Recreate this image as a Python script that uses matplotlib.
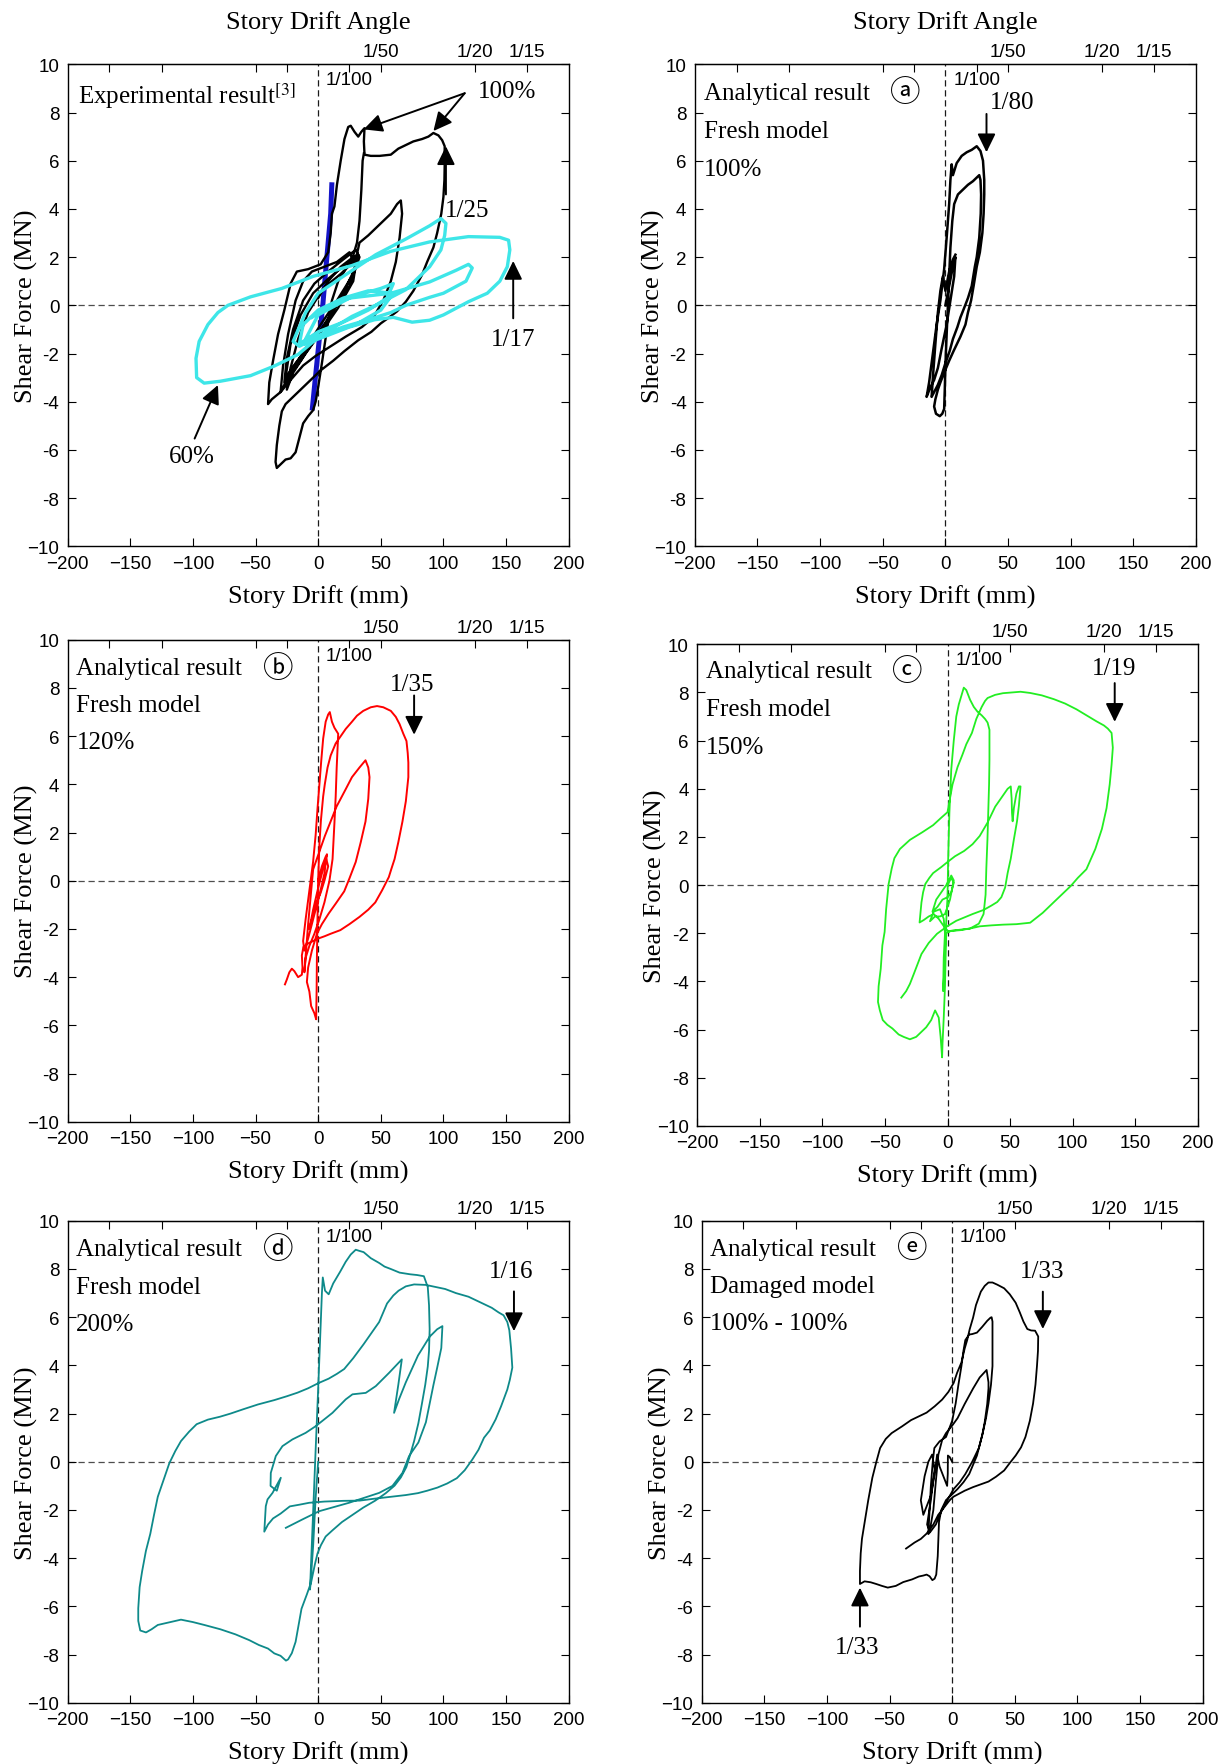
import numpy as np
import matplotlib.pyplot as plt

plt.rcParams['mathtext.fontset'] = 'stix'

SERIF = ['Liberation Serif', 'Noto Sans CJK JP', 'DejaVu Sans']
CIRCLED = ['Noto Sans CJK JP', 'DejaVu Sans']
SANS = 'Liberation Sans'

x_ticks = [-200, -150, -100, -50, 0, 50, 100, 150, 200]
x_tick_labels = ['\u2212200', '\u2212150', '\u2212100', '\u221250', '0', '50', '100', '150', '200']
y_ticks = [-10, -8, -6, -4, -2, 0, 2, 4, 6, 8, 10]
y_tick_labels = ['\u221210', '-8', '-6', '-4', '-2', '0', '2', '4', '6', '8', '10']

# drift angle marks for a 2500 mm story
angle_ticks = [-500 / 3, -125, -50, -25, 25, 50, 125, 500 / 3]
angle_labels = ['', '', '', '', '', '1/50', '1/20', '1/15']

# ---- experimental result (story drift mm, shear MN) ----
exp_black = [
    (0, 0.3), (8, 1.0), (18, 1.6), (28, 2.0), (32, 2.1), (27, 1.2), (15, 0.2), (2, -0.8), (-10, -1.8),
    (-20, -2.6), (-27, -3.2), (-25, -2.2), (-20, -1.0), (-12, 0.2), (-3, 0.9), (8, 1.4), (20, 1.9),
    (30, 2.3), (33, 2.0), (25, 0.8), (12, -0.2), (0, -1.2), (-14, -2.3), (-24, -3.0), (-30, -3.6),
    (-28, -2.5), (-24, -1.2), (-18, 0.2), (-12, 1.0), (-5, 1.4), (5, 1.6), (15, 1.8), (25, 2.2),
    (30, 1.6), (20, 0.5), (8, -0.6), (-6, -1.6), (-18, -2.4), (-26, -3.0), (-22, -1.6), (-14, -0.4),
    (-4, 0.5), (8, 1.1), (22, 1.7), (31, 2.0), (28, 1.0), (16, -0.1), (4, -1.0), (-10, -2.0),
    (-20, -2.8), (-25, -3.5), (-22, -2.6), (-16, -1.4), (-8, -0.3), (4, 0.7), (18, 1.3), (30, 1.9),
    (33, 2.6), (40, 2.9), (50, 3.4), (58, 3.8), (63, 4.2), (66, 4.35), (67, 3.8), (65, 2.8), (62, 1.8),
    (58, 1.0), (52, 0.2), (44, -0.5), (35, -0.9), (22, -1.3), (10, -1.7), (-2, -2.1), (-12, -2.5),
    (-22, -3.1), (-30, -3.6), (-37, -3.9), (-40, -4.1), (-39, -3.2), (-36, -2.3), (-32, -1.2),
    (-27, -0.2), (-22, 0.9), (-17, 1.4), (-8, 1.5), (2, 1.7), (8, 2.2), (10, 3.0), (11, 3.8), (13, 4.1),
    (15, 5.0), (18, 6.0), (21, 6.9), (24, 7.4), (26, 7.45), (29, 7.2), (32, 7.0), (34.5, 7.2),
    (37, 7.35), (36.5, 6.8), (37, 6.25), (42, 6.2), (49, 6.2), (58, 6.25), (64, 6.5), (70, 6.65),
    (76, 6.8), (83, 6.9), (88, 7.0), (92, 7.15), (96, 7.05), (99, 6.85), (101, 6.6), (101, 5.8),
    (100.8, 5.2), (100, 4.5), (98.3, 3.8), (95, 3.0), (92, 2.4), (87, 1.8), (82.8, 1.25), (76, 0.6),
    (70, 0.15), (63, -0.25), (58, -0.45), (50, -0.75), (42.5, -1.1), (32, -1.45), (21, -1.9),
    (12, -2.3), (2, -2.7), (-6, -3.1), (-13, -3.45), (-20, -3.8), (-26, -4.1), (-29, -4.4), (-31, -5.0),
    (-33, -5.8), (-34, -6.5), (-33, -6.75), (-30, -6.6), (-26, -6.4), (-22, -6.35), (-18, -6.1),
    (-15, -5.5), (-12, -4.9), (-8, -4.6), (-4, -4.35), (-2, -4.0), (0, -3.4), (3, -2.4), (7, -1.0),
    (11, 0.2), (16, 1.0), (22, 1.5), (27, 1.9), (31, 2.6), (33, 3.5), (34.5, 4.8), (35.5, 6.0),
    (36.5, 6.3),
]
exp_cyan = [
    (-5, -0.5), (10, 0.0), (30, 0.4), (50, 0.7), (60, 0.9), (55, 0.3), (40, -0.2), (20, -0.7), (0, -1.1),
    (-15, -1.6), (-12, -0.8), (0, -0.2), (20, 0.3), (40, 0.6), (60, 0.5), (50, -0.2), (30, -0.8),
    (10, -1.1), (-10, -1.4), (0, -0.4), (25, 0.3), (58, 0.5), (89, 0.97), (110, 1.45), (120, 1.7),
    (123, 1.55), (118, 1.0), (100, 0.5), (89, 0.33), (70, 0.0), (58, -0.3), (40, -0.6), (20, -0.9),
    (0, -1.3), (-15, -1.7), (-20, -1.5), (-10, -0.3), (0, 0.5), (20, 1.2), (46, 2.1), (70, 2.75),
    (89, 3.3), (98, 3.6), (102, 3.4), (101, 2.9), (98, 2.3), (89, 1.6), (70, 0.65), (46, 0.0),
    (27, -0.46), (2, -1.25), (-16, -2.04), (-35, -2.52), (-54, -2.92), (-78, -3.15), (-91, -3.23),
    (-97, -3.0), (-97.5, -2.2), (-95, -1.5), (-88, -0.8), (-80, -0.3), (-72, 0.0), (-54, 0.35),
    (-29, 0.7), (-4, 1.2), (27, 1.65), (58, 2.24), (89, 2.63), (120, 2.85), (145, 2.82), (152, 2.7),
    (153, 2.3), (151, 1.6), (145, 1.0), (135, 0.5), (120, 0.15), (100, -0.4), (89, -0.62), (75, -0.7),
    (60, -0.5), (45, -0.6), (25, -0.9), (5, -1.3), (-10, -1.6),
]
exp_blue = [
    (10.9, 5.0), (10, 3.8), (6.8, 1.9), (3.7, 0.0), (0.6, -1.57), (-2.5, -3.15), (-4.6, -4.26),
]

# ---- analytical results ----
ana_a = [
    (0, 0), (3, 0.8), (6, 1.6), (8, 2.0), (7, 1.2), (4, 0.2), (1, -0.8), (-3, -1.8), (-6, -2.6),
    (-9, -3.1), (-12, -3.4), (-15, -3.8), (-13, -3.2), (-10, -2.0), (-7, -0.8), (-4, 0.2), (-1, 1.5),
    (1, 2.8), (3, 4.2), (4, 5.2), (5, 5.85), (6, 5.4), (9, 5.9), (13, 6.2), (17, 6.35), (21, 6.45),
    (25, 6.6), (28, 6.4), (30, 6.0), (31, 5.2), (31, 4.6), (30.5, 3.8), (29.5, 3.0), (27.5, 2.2),
    (25, 1.6), (22.5, 0.8), (20.5, 0.2), (18, -0.3), (16, -0.8), (12, -1.3), (6.5, -1.9), (3, -2.3),
    (-1, -2.8), (-4, -3.2), (-6, -3.5), (-8, -3.9), (-9, -4.2), (-7.5, -4.5), (-4.5, -4.6), (-2.5, -4.5),
    (-1, -4.3), (-0.5, -3.5), (0, -2.5), (1, -1.2), (2, 0), (3, 1.2), (4, 2.4), (5.5, 3.5), (7, 4.2),
    (10, 4.6), (14, 4.8), (18, 5.0), (22, 5.15), (25, 5.3), (27, 5.4), (28, 5.2), (28.5, 4.6),
    (28.2, 3.8), (27, 2.8), (25, 2.0), (23.5, 1.6), (21, 0.8), (18, 0.3), (15.8, 0), (12, -0.5),
    (9.6, -0.9), (6, -1.4), (3.4, -1.9), (0, -2.4), (-3, -2.9), (-6, -3.3), (-9, -3.6), (-11, -3.8),
    (-10, -3.0), (-8, -1.6), (-6, -0.3), (-4, 0.6), (-2, 1.2), (0, 0.6), (3, 1.4), (6, 1.9), (8, 2.1),
]
ana_b = [
    (0, 0), (3, 0.6), (6, 1.0), (8, 0.6), (5, 0.0), (2, -0.5), (-2, -1.0), (-5, -1.6), (-7, -2.0),
    (-4, -1.2), (0, -0.3), (4, 0.5), (7, 1.1), (5, 0.3), (1, -0.6), (-4, -1.6), (-8, -2.4), (-11, -2.9),
    (-12, -2.5), (-10, -1.6), (-7, -0.4), (-4, 0.8), (-2, 1.9), (-0.5, 3.0), (1, 4.0), (2.5, 5.0),
    (4, 5.9), (6, 6.6), (8, 6.9), (9.3, 7.0), (11, 6.6), (13, 6.35), (16, 6.1), (15.5, 5.5), (14.8, 4.7),
    (14, 3.5), (13, 2.4), (11.5, 0.9), (9, 0), (5, -0.9), (1, -1.6), (-3, -2.2), (-7, -2.7), (-10, -3.2),
    (-11, -3.8), (-8, -1.8), (-4, 0.47), (5.3, 1.85), (14.6, 3.07), (22, 3.8), (27, 4.3), (33, 4.7),
    (37.8, 5.0), (40, 4.7), (41, 4.3), (40, 3.4), (37.8, 2.46), (34, 1.6), (30, 0.78), (25, 0.1),
    (20.8, -0.44), (14, -0.95), (8.4, -1.36), (3, -1.8), (-1, -2.2), (-5, -2.9), (-8, -3.6), (-9, -4.2),
    (-7, -4.6), (-5.6, -5.2), (-3, -5.5), (-1.6, -5.75), (-1.2, -4.5), (-1, -3.2), (-0.5, -1.5), (0, 0),
    (1, 1.5), (2.2, 2.5), (4, 3.5), (5.3, 4.0), (7.5, 4.7), (10, 5.2), (14, 5.7), (18, 6.0), (22, 6.3),
    (27, 6.6), (31, 6.85), (36, 7.05), (42, 7.2), (47, 7.25), (52, 7.2), (58, 7.05), (62, 6.8),
    (65, 6.5), (68, 6.1), (70.5, 5.8), (71.5, 5.3), (72, 4.9), (72, 4.3), (70, 3.3), (67.3, 2.46),
    (64, 1.6), (61, 0.9), (58.5, 0.5), (56.4, 0.15), (51, -0.4), (45.6, -0.9), (40, -1.2), (33, -1.5),
    (25, -1.8), (17.7, -2.05), (10, -2.2), (5.3, -2.3), (0, -2.4), (-4, -2.5), (-8, -2.6), (-11.8, -2.75),
    (-13, -3.1), (-12.5, -3.6), (-13, -3.9), (-16, -4.0), (-19, -3.75), (-21, -3.65), (-23, -3.8),
    (-25, -4.1), (-26.5, -4.3),
]
ana_c = [
    (0, 0), (3, 0.3), (5, 0.1), (3, -0.3), (0, -0.5), (-4, -0.6), (-8, -0.9), (-12, -1.1), (-9, -0.6),
    (-5, -0.3), (-1, 0.0), (3, 0.4), (5, 0.2), (2, -0.6), (-2, -1.2), (-6, -1.3), (-10, -1.3),
    (-14, -1.5), (-11, -1.1), (-6, -1.0), (-3, -1.4), (-2, -2.0), (-3, -3.0), (-3.5, -4.4), (-2.5, -3.5),
    (-1.5, -2.0), (0, -0.5), (0.5, 1.0), (1.5, 3.0), (3, 4.8), (5, 6.0), (7, 7.0), (9, 7.5), (11.8, 8.0),
    (13, 8.2), (15, 8.1), (18, 7.7), (21, 7.4), (24, 7.2), (27.3, 7.05), (30, 6.9), (32, 6.75),
    (33.5, 6.45), (33.5, 5.2), (33.2, 4.2), (32.5, 3.0), (31.9, 1.9), (31, 0.7), (30.4, -0.4),
    (28.8, -1.2), (25, -1.6), (18, -1.8), (10, -1.85), (2, -1.9), (-1, -2.0), (-1.5, -3.0), (-2, -4.2),
    (-3, -5.5), (-4, -6.6), (-4.3, -7.15), (-5.5, -6.3), (-7, -5.5), (-9.9, -5.2), (-13, -5.6),
    (-17, -5.9), (-21, -6.1), (-25, -6.3), (-30, -6.4), (-35, -6.3), (-39, -6.2), (-44, -5.95),
    (-48, -5.8), (-51.7, -5.6), (-54, -5.2), (-55.5, -4.85), (-55, -4.2), (-53.3, -3.47), (-52, -2.5),
    (-50.2, -1.94), (-49, -1.0), (-47, 0.05), (-44.5, 0.7), (-42.4, 1.12), (-38, 1.5), (-30, 1.88),
    (-20, 2.2), (-11.5, 2.49), (-5, 2.8), (0, 3.03), (4, 4.18), (8, 4.9), (11.8, 5.4), (15, 5.85),
    (19.5, 6.32), (23, 6.9), (27.3, 7.4), (30, 7.65), (32, 7.77), (38, 7.9), (44.3, 7.97), (51, 8.0),
    (58.3, 8.03), (66, 7.98), (75.3, 7.88), (85, 7.72), (93.9, 7.54), (103, 7.3), (112.5, 7.0),
    (119, 6.8), (124.9, 6.63), (128, 6.5), (131, 6.32), (132, 5.71), (131, 5.0), (129.5, 4.18),
    (127, 3.2), (123.3, 2.34), (118, 1.5), (110.9, 0.66), (104, 0.3), (98.5, -0.03), (92, -0.35),
    (84.6, -0.72), (76, -1.15), (66, -1.56), (55, -1.62), (44.3, -1.64), (35, -1.67), (25.7, -1.71),
    (18, -1.8), (10.2, -1.87), (3, -1.9), (0.9, -1.94), (-3, -1.7), (-7, -1.4), (-11, -1.2), (-15, -1.3),
    (-19, -1.45), (-22.3, -1.55), (-21.5, -1.1), (-20.8, -0.72), (-19.5, -0.3), (-17.7, 0.05),
    (-14.5, 0.3), (-11.5, 0.5), (-5, 0.75), (0, 0.96), (6, 1.2), (13.3, 1.42), (20, 1.7), (25.7, 2.04),
    (32, 2.6), (38.1, 3.26), (44, 3.7), (48, 4.0), (50.5, 4.1), (51.2, 3.6), (51.5, 3.0), (52, 2.65),
    (53, 3.2), (55, 3.8), (57, 4.1), (58.3, 4.1), (57, 3.3), (55.5, 2.65), (53, 1.9), (50.5, 1.1),
    (48, 0.5), (46, -0.1), (43, -0.5), (39.7, -0.7), (35, -0.85), (28.8, -1.03), (20, -1.2),
    (13, -1.35), (7, -1.48), (0, -1.7), (-8.4, -2.02), (-15, -2.4), (-20.8, -2.86), (-24, -3.3),
    (-27, -3.7), (-30, -4.1), (-33, -4.4), (-36.9, -4.67),
]
ana_d = [
    (0, 0), (-2, -1.5), (-4, -3.5), (-6, -5.0), (-6.5, -5.3), (-5.5, -4.0), (-4, -2.0), (-2, 0.5),
    (0, 3.0), (1.5, 5.0), (3, 7.0), (3.7, 7.65), (5.5, 7.1), (8.4, 6.95), (12, 7.4), (17.7, 7.9),
    (22, 8.3), (26, 8.6), (30, 8.8), (33, 8.75), (36.3, 8.7), (42, 8.45), (48.7, 8.25), (53, 8.1),
    (58, 8.0), (65, 7.85), (73.5, 7.78), (79, 7.75), (84.4, 7.7), (87.5, 7.25), (88.5, 6.5), (89, 5.5),
    (88.5, 4.6), (87.5, 3.95), (85.5, 3.2), (82.8, 2.4), (80, 1.6), (76.6, 0.86), (73.5, 0.3),
    (70.4, -0.22), (66, -0.65), (61, -0.99), (54, -1.3), (45.6, -1.61), (36, -1.9), (27, -2.22),
    (19, -2.5), (11.5, -2.84), (6, -3.1), (2.2, -3.46), (-0.5, -3.8), (-2.5, -4.23), (-5.6, -5.0),
    (-9, -5.5), (-13.3, -6.1), (-16, -6.9), (-18, -7.47), (-21, -7.94), (-24, -8.2), (-25.7, -8.25),
    (-30, -8.05), (-35, -7.95), (-40, -7.75), (-47.4, -7.6), (-55, -7.4), (-66, -7.16), (-78, -6.95),
    (-90.9, -6.77), (-100, -6.65), (-109.5, -6.55), (-118, -6.65), (-128, -6.77), (-133, -6.95),
    (-137.4, -7.08), (-142, -7.0), (-143.6, -6.6), (-143.6, -6.08), (-142.5, -5.2), (-140.5, -4.54),
    (-137.5, -3.7), (-134, -2.99), (-131, -2.2), (-128, -1.45), (-123, -0.7), (-118.8, -0.06),
    (-114, 0.45), (-109.5, 0.86), (-103, 1.25), (-97, 1.56), (-88, 1.75), (-78.4, 1.87), (-70, 2.0),
    (-59.8, 2.18), (-48, 2.38), (-35, 2.56), (-25, 2.72), (-16.4, 2.87), (-8, 3.05), (0, 3.26),
    (8.4, 3.45), (15, 3.65), (20.8, 3.85), (28, 4.3), (36.3, 4.88), (42, 5.3), (48.7, 5.8), (52, 6.2),
    (55, 6.57), (60, 6.9), (64.2, 7.1), (70, 7.28), (76.6, 7.36), (85.9, 7.34), (94, 7.25),
    (101.4, 7.17), (110, 7.0), (120, 6.85), (130, 6.6), (138.6, 6.39), (144, 6.2), (148, 6.08),
    (151, 5.8), (152.6, 5.46), (154, 4.7), (155, 3.91), (153, 3.4), (151, 3.0), (146, 2.3),
    (141.7, 1.76), (137, 1.3), (132.4, 1.0), (128, 0.5), (123, 0.09), (117, -0.35), (110.7, -0.68),
    (103, -0.9), (95.2, -1.07), (87, -1.2), (79.7, -1.3), (70, -1.38), (58, -1.45), (45, -1.53),
    (33.2, -1.61), (20, -1.62), (5, -1.65), (-7.1, -1.7), (-15, -1.78), (-22.6, -1.85), (-30, -2.15),
    (-36, -2.35), (-40, -2.6), (-43, -2.9), (-41.8, -1.84), (-40.4, -1.56), (-36.4, -1.29),
    (-29.8, -0.66), (-33, -1.2), (-38, -1.0), (-37.8, -0.46), (-33.8, 0.24), (-28.5, 0.65),
    (-20.5, 0.93), (-10, 1.2), (-1.9, 1.48), (11.4, 2.03), (22, 2.59), (27.4, 2.8), (38, 2.86),
    (46, 3.14), (56.6, 3.69), (66.8, 4.25), (64, 3.2), (60.6, 2.03), (64.6, 2.6), (70, 3.3),
    (79.7, 4.41), (89, 5.19), (95, 5.5), (99.2, 5.63), (98.3, 4.72), (95, 3.9), (92, 3.18), (86, 1.64),
    (80, 0.8), (72.6, 0.24), (67.3, -0.46), (59.3, -1.0), (48.7, -1.29), (24.7, -1.7), (0.8, -2.05),
    (-12.5, -2.39), (-25.8, -2.74),
]
ana_e = [
    (0, 0), (-2, 0.2), (-3.4, 0.26), (-3.5, -0.5), (-4, -1.0), (-7, -0.6), (-10, -0.2), (-12, 0.3),
    (-14, -0.5), (-17, -1.4), (-20, -1.8), (-23, -2.2), (-25, -1.6), (-22, -0.6), (-19, 0.0), (-16, 0.3),
    (-14, -0.3), (-17, -1.6), (-20, -2.6), (-18, -2.9), (-15, -2.0), (-13, -0.8), (-11, 0.3), (-8, 0.9),
    (-4.9, 1.19), (0, 1.5), (4.3, 1.81), (10, 2.4), (16.7, 3.04), (22, 3.5), (27.5, 3.81), (29, 3.3),
    (29, 3.04), (28, 2.4), (26, 1.65), (24, 1.1), (21.3, 0.57), (16, 0.0), (10.5, -0.51), (6, -0.85),
    (1.2, -1.13), (-4, -1.6), (-9, -2.1), (-13, -2.6), (-17.3, -2.9), (-19, -3.0), (-18, -2.0),
    (-17, -1.0), (-15.5, 0.0), (-14.2, 0.57), (-10, 0.85), (-4.9, 1.03), (0, 1.7), (2.8, 2.42), (5, 3.2),
    (7.4, 3.97), (9, 4.6), (10.5, 5.05), (13.6, 5.28), (16, 5.3), (19.8, 5.36), (24, 5.6), (28, 5.85),
    (30.6, 5.98), (31.5, 6.0), (32.2, 5.82), (32.2, 4.9), (32.2, 3.97), (31, 3.2), (29, 2.42), (27, 1.8),
    (24.4, 1.19), (22, 0.7), (19.8, 0.26), (16.5, -0.15), (13.6, -0.51), (9, -0.85), (4.3, -1.13),
    (0, -1.35), (-4.9, -1.59), (-8.7, -2.0), (-10.5, -2.5), (-11, -3.2), (-11.5, -3.91), (-12.7, -4.68),
    (-14, -4.85), (-15.8, -4.91), (-18, -4.75), (-20.4, -4.68), (-23, -4.72), (-26.6, -4.76),
    (-32, -4.88), (-39, -4.99), (-45, -5.15), (-51.4, -5.22), (-56, -5.15), (-60.6, -5.07), (-65, -5.0),
    (-69.9, -4.96), (-72, -5.02), (-73.6, -5.07), (-73.6, -4.53), (-73, -3.8), (-72, -3.2),
    (-69.9, -2.52), (-67, -1.6), (-63.7, -0.66), (-60.5, 0.0), (-57.5, 0.57), (-53, 0.95), (-48.3, 1.19),
    (-40, 1.47), (-32.8, 1.73), (-26, 1.9), (-20.4, 2.04), (-14, 2.3), (-8, 2.58), (-3, 2.9), (1.2, 3.27),
    (4, 3.7), (7.4, 4.12), (10, 4.7), (12, 5.05), (14, 5.5), (16.7, 5.98), (19, 6.5), (22.9, 7.06),
    (26, 7.3), (29, 7.44), (32.2, 7.44), (36, 7.35), (41.5, 7.2), (46, 6.95), (50.7, 6.6), (54, 6.2),
    (56.9, 5.82), (60, 5.51), (63, 5.45), (66.2, 5.44), (68.7, 5.2), (68.5, 4.6), (67.7, 3.97),
    (66.5, 3.2), (64.6, 2.42), (62, 1.7), (58.5, 1.03), (55, 0.6), (50.7, 0.26), (46, -0.05),
    (41.5, -0.36), (35, -0.62), (29, -0.82), (22, -0.95), (16.7, -1.05), (10, -1.2), (4.3, -1.36),
    (1, -1.45), (-1.9, -1.59), (-5, -1.8), (-8, -2.0), (-11.1, -2.2), (-15, -2.6), (-20.4, -2.98),
    (-25, -3.2), (-30, -3.35), (-36.8, -3.6),
]

# panel boxes in pixels: left, top, right, bottom
boxes = [
    (67.6, 65.3, 568.7, 547.3), (694.8, 65.3, 1196.0, 547.3),
    (67.6, 640.8, 568.7, 1122.7), (697.0, 645.3, 1198.0, 1127.0),
    (67.6, 1221.8, 568.7, 1703.8), (701.6, 1221.8, 1202.7, 1703.8),
]
W, H = 1224, 1765

fig = plt.figure(figsize=(W / 100, H / 100), dpi=100)
axes = []
for (l, t, r, b) in boxes:
    axes.append(fig.add_axes([l / W, 1 - b / H, (r - l) / W, (b - t) / H]))


def setup(ax, title=False):
    ax.set_xlim(-200, 200)
    ax.set_ylim(-10, 10)
    ax.set_xticks(x_ticks, x_tick_labels)
    ax.set_yticks(y_ticks, y_tick_labels)
    ax.tick_params(direction='in', length=6, width=0.8, top=False, right=True,
                   labelsize=13.5, pad=6, labelfontfamily=SANS)
    for s in ax.spines.values():
        s.set_linewidth(1.0)
    ax.axhline(0, color='0.3', lw=0.9, ls=(0, (5, 3)), zorder=1)
    ax.axvline(0, color='0.1', lw=0.9, ls=(0, (5, 3)), zorder=1)
    ax.set_xlabel('Story Drift (mm)', fontsize=19, family=SERIF)
    ax.xaxis.set_label_coords(0.5, -0.079)
    ax.set_ylabel('Shear Force (MN)', fontsize=19, family=SERIF)
    ax.yaxis.set_label_coords(-0.060, 0.5)
    sec = ax.secondary_xaxis('top')
    sec.set_xticks(angle_ticks, angle_labels)
    sec.tick_params(direction='in', length=6, width=0.8, labelsize=13.5, pad=3,
                    labelfontfamily=SANS)
    ax.text(25, 9.35, '1/100', ha='center', va='center', fontsize=13.5, family=SANS)
    if title:
        ax.text(0.5, 1.089, 'Story Drift Angle', transform=ax.transAxes, ha='center',
                va='center', fontsize=19, family=SERIF)


def arrow(ax, tail, head):
    ax.annotate('', xy=head, xytext=tail,
                arrowprops=dict(arrowstyle='-|>,head_length=0.45,head_width=0.22',
                                color='k', lw=1.4, mutation_scale=25, shrinkA=0, shrinkB=0))


def label_lines(ax, mark, lines, ys):
    # first line carries the circled case letter
    for txt, y in zip(lines, ys):
        ax.text(-193, y, txt, ha='left', va='center', fontsize=18, family=SERIF)
    ax.text(-32, ys[0], mark, ha='center', va='center', fontsize=22, family=CIRCLED)


def curve(ax, pts, color, lw, z=3):
    p = np.array(pts)
    ax.plot(p[:, 0], p[:, 1], color=color, lw=lw, zorder=z, solid_joinstyle='round')


for i, ax in enumerate(axes):
    setup(ax, title=(i < 2))

# experimental result
ax = axes[0]
curve(ax, exp_blue, '#1414c8', 3.6, 3)
curve(ax, exp_black, 'black', 1.7, 4)
curve(ax, exp_cyan, '#3ee6e8', 2.4, 5)
ax.text(-192, 8.73, r'Experimental result$^{\mathrm{[3]}}$', ha='left', va='center',
        fontsize=18, family=SERIF)
ax.text(151, 8.9, '100%', ha='center', va='center', fontsize=18, family=SERIF)
arrow(ax, (117, 8.8), (36.3, 7.3))
arrow(ax, (117, 8.8), (92, 7.23))
ax.text(119, 3.95, '1/25', ha='center', va='center', fontsize=18, family=SERIF)
arrow(ax, (102, 4.6), (102, 6.6))
ax.text(155.7, -1.41, '1/17', ha='center', va='center', fontsize=18, family=SERIF)
arrow(ax, (155.7, -0.54), (155.7, 1.84))
ax.text(-100.5, -6.24, '60%', ha='center', va='center', fontsize=18, family=SERIF)
arrow(ax, (-98.6, -5.53), (-80, -3.31))

# analytical (a)
ax = axes[1]
curve(ax, ana_a, 'black', 1.8)
label_lines(ax, '\u24d0', ['Analytical result', 'Fresh model', '100%'], [8.81, 7.23, 5.64])
ax.text(52.9, 8.42, '1/80', ha='center', va='center', fontsize=18, family=SERIF)
arrow(ax, (32.8, 7.94), (32.8, 6.35))

# analytical (b)
ax = axes[2]
curve(ax, ana_b, '#ff0000', 1.4)
label_lines(ax, '\u24d1', ['Analytical result', 'Fresh model', '120%'], [8.81, 7.28, 5.75])
ax.text(75, 8.15, '1/35', ha='center', va='center', fontsize=18, family=SERIF)
arrow(ax, (76.6, 7.69), (76.6, 6.06))

# analytical (c)
ax = axes[3]
curve(ax, ana_c, '#22ee22', 1.3)
label_lines(ax, '\u24d2', ['Analytical result', 'Fresh model', '150%'], [8.88, 7.31, 5.75])
ax.text(132.6, 9.0, '1/19', ha='center', va='center', fontsize=18, family=SERIF)
arrow(ax, (133.5, 8.39), (133.5, 6.78))

# analytical (d)
ax = axes[4]
curve(ax, ana_d, '#0e8a8a', 1.3)
label_lines(ax, '\u24d3', ['Analytical result', 'Fresh model', '200%'], [8.81, 7.27, 5.73])
ax.text(154, 7.92, '1/16', ha='center', va='center', fontsize=18, family=SERIF)
arrow(ax, (156.3, 7.07), (156.3, 5.42))

# analytical (e)
ax = axes[5]
curve(ax, ana_e, 'black', 1.3)
label_lines(ax, '\u24d4', ['Analytical result', 'Damaged model', '100% - 100%'], [8.83, 7.29, 5.75])
ax.text(71.5, 7.9, '1/33', ha='center', va='center', fontsize=18, family=SERIF)
arrow(ax, (72.4, 7.06), (72.4, 5.51))
ax.text(-75.5, -7.69, '1/33', ha='center', va='center', fontsize=18, family=SERIF)
arrow(ax, (-73.6, -6.84), (-73.6, -5.22))

fig.savefig('out.png', dpi=100, facecolor='white')
